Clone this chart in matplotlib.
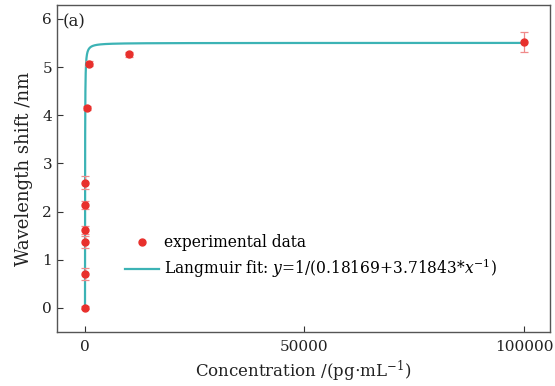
import numpy as np
import matplotlib.pyplot as plt

plt.rcParams['font.family'] = 'DejaVu Serif'
plt.rcParams['mathtext.fontset'] = 'dejavuserif'

# experimental data
conc = [0, 1, 2, 5, 10, 50, 500, 1000, 10000, 100000]
shift = [0.0, 0.70, 1.37, 1.62, 2.13, 2.60, 4.15, 5.07, 5.27, 5.52]
err = [0.03, 0.12, 0.12, 0.08, 0.08, 0.14, 0.05, 0.05, 0.05, 0.20]

# Langmuir fit parameters
a = 0.18169
b = 3.71843

xf = np.concatenate([[0], np.logspace(-2, 5, 2000)])
yf = xf / (a * xf + b)

fig = plt.figure(figsize=(5.55, 3.86), dpi=100)
ax = fig.add_axes([0.1027, 0.140, 0.888, 0.847])

ax.plot(xf, yf, color='#3cb3b5', lw=1.6, label='Langmuir fit: $y$=1/(0.18169+3.71843*$x^{-1}$)', zorder=2)
ax.errorbar(conc, shift, yerr=err, fmt='none', ecolor='#f08a8a', elinewidth=0.9, capsize=3, capthick=0.9, zorder=3)
ax.plot(conc, shift, 'o', color='#e8302c', markeredgecolor='#e8302c', ms=5, ls='none', label='experimental data', zorder=4)

ax.set_xlim(-6380, 105900)
ax.set_ylim(-0.50, 6.29)
ax.set_xticks([0, 50000, 100000])
ax.set_yticks(range(0, 7))
ax.tick_params(direction='in', labelsize=11, length=4, width=0.8, colors='#333333', labelcolor='#222222')
ax.tick_params(axis='x', pad=6)
for s in ax.spines.values():
    s.set_color('#555555')
    s.set_linewidth(1.0)

ax.set_xlabel('Concentration /(pg$\\cdot$mL$^{-1}$)', fontsize=12, labelpad=3, color='#222222')
ax.set_ylabel('Wavelength shift /nm', fontsize=13, labelpad=7, color='#222222')
ax.text(0.012, 0.975, '(a)', transform=ax.transAxes, fontsize=12, va='top', ha='left', color='#222222')

h, l = ax.get_legend_handles_labels()
ax.legend(h[::-1], l[::-1], loc='lower left', bbox_to_anchor=(0.125, 0.14), frameon=False,
          fontsize=11.2, handlelength=2.2, handletextpad=0.3, labelspacing=0.35, borderaxespad=0)

fig.savefig('out.png', dpi=100)
